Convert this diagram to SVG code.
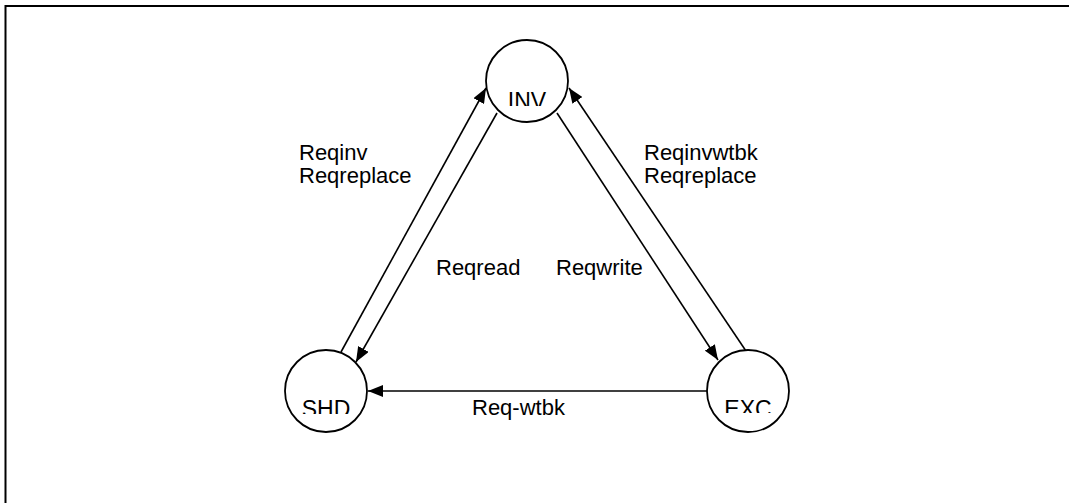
<svg xmlns="http://www.w3.org/2000/svg" width="1069" height="503" viewBox="0 0 1069 503">
<style>
.node{fill:#fff;stroke:#000;stroke-width:1.8}
.lbl{font-family:"Liberation Sans",Arial,sans-serif;font-size:22px;fill:#000}
.nlbl{font-family:"Liberation Sans",Arial,sans-serif;font-size:23px;fill:#000;text-anchor:middle}
.edge{stroke:#000;stroke-width:1.6;fill:none;marker-end:url(#ah)}
</style>
<defs>
<marker id="ah" markerUnits="userSpaceOnUse" markerWidth="16" markerHeight="12" refX="15" refY="6" orient="auto">
<path d="M0,0 L15,6 L0,12 Z" fill="#000"/>
</marker>
<clipPath id="cInv"><rect x="480" y="40" width="100" height="66"/></clipPath>
<clipPath id="cShd"><rect x="280" y="350" width="100" height="64"/></clipPath>
<clipPath id="cExc"><rect x="700" y="350" width="100" height="63"/></clipPath>
</defs>
<rect width="1069" height="503" fill="#fff"/>
<path d="M5.5,503 V6 H1069" fill="none" stroke="#000" stroke-width="2"/>
<g id="connectors">
<line class="edge" x1="341" y1="352" x2="486" y2="88"/>
<line class="edge" x1="497" y1="113" x2="356" y2="362"/>
<line class="edge" x1="557" y1="113" x2="718" y2="360"/>
<line class="edge" x1="746" y1="351" x2="569" y2="88"/>
<line class="edge" x1="707" y1="391" x2="368" y2="391"/>
<text class="lbl" x="299" y="160">Reqinv</text>
<text class="lbl" x="299" y="183">Reqreplace</text>
<text class="lbl" x="644" y="160">Reqinvwtbk</text>
<text class="lbl" x="644" y="183">Reqreplace</text>
<text class="lbl" x="436" y="275">Reqread</text>
<text class="lbl" x="556" y="275">Reqwrite</text>
<text class="lbl" x="472" y="415">Req-wtbk</text>
</g>
<g id="INV">
<circle class="node" cx="527" cy="81" r="41"/>
<text class="nlbl" x="527" y="109" clip-path="url(#cInv)">INV</text>
</g>
<g id="SHD">
<circle class="node" cx="326" cy="391" r="41"/>
<text class="nlbl" x="326" y="417" clip-path="url(#cShd)">SHD</text>
</g>
<g id="EXC">
<circle class="node" cx="748" cy="391" r="41"/>
<text class="nlbl" x="748" y="417" clip-path="url(#cExc)">EXC</text>
</g>
</svg>
